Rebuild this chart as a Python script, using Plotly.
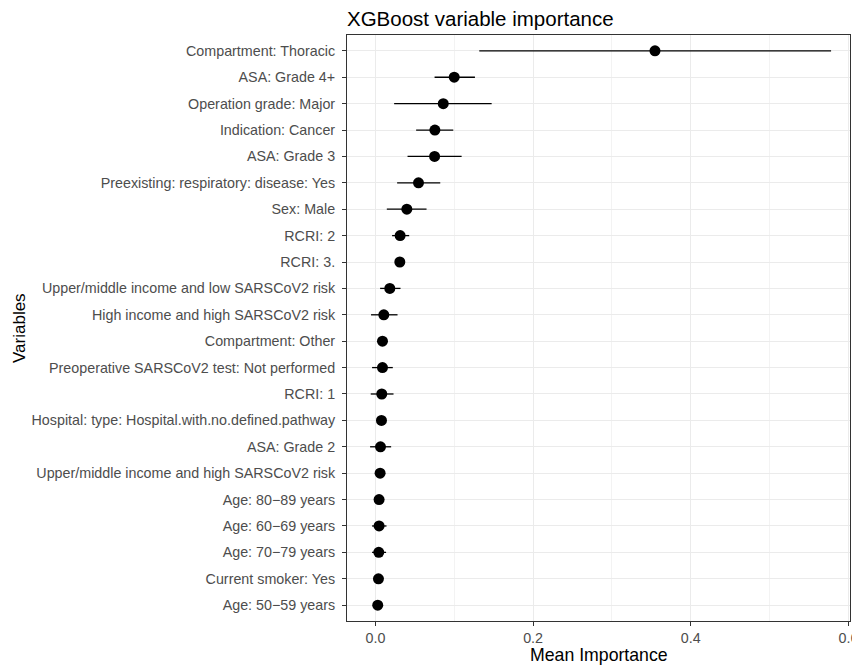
import plotly.graph_objects as go

variables = [
    "Compartment: Thoracic",
    "ASA: Grade 4+",
    "Operation grade: Major",
    "Indication: Cancer",
    "ASA: Grade 3",
    "Preexisting: respiratory: disease: Yes",
    "Sex: Male",
    "RCRI: 2",
    "RCRI: 3.",
    "Upper/middle income and low SARSCoV2 risk",
    "High income and high SARSCoV2 risk",
    "Compartment: Other",
    "Preoperative SARSCoV2 test: Not performed",
    "RCRI: 1",
    "Hospital: type: Hospital.with.no.defined.pathway",
    "ASA: Grade 2",
    "Upper/middle income and high SARSCoV2 risk",
    "Age: 80\u221289 years",
    "Age: 60\u221269 years",
    "Age: 70\u221279 years",
    "Current smoker: Yes",
    "Age: 50\u221259 years",
]
mean_importance = [0.3546, 0.0999, 0.0860, 0.0754, 0.0750, 0.0546, 0.0398, 0.0313, 0.0309,
                   0.0182, 0.0106, 0.0089, 0.0089, 0.0080, 0.0076, 0.0064, 0.0059, 0.0046,
                   0.0046, 0.0042, 0.0038, 0.0029]
lower = [0.1317, 0.0750, 0.0237, 0.0516, 0.0407, 0.0275, 0.0144, 0.0211, 0.0269,
         0.0059, -0.0056, 0.0049, -0.0043, -0.0060, 0.0026, -0.0068, 0.0029, 0.0016,
         -0.0043, -0.0043, 0.0008, -0.0001]
upper = [0.5780, 0.1262, 0.1474, 0.0987, 0.1093, 0.0822, 0.0648, 0.0428, 0.0349,
         0.0318, 0.0280, 0.0129, 0.0220, 0.0229, 0.0126, 0.0199, 0.0089, 0.0076,
         0.0140, 0.0135, 0.0068, 0.0059]

err_plus = [u - m for u, m in zip(upper, mean_importance)]
err_minus = [m - l for m, l in zip(mean_importance, lower)]

# page body has an 8px margin, so the figure is 852x660 placed at (8, 8)
OFF = 8
W, H = 860 - OFF, 668 - OFF
L, R, T, B = 347 - OFF, 10, 35 - OFF, 47
pw, ph = W - L - R, H - T - B

fig = go.Figure()
fig.add_trace(go.Scatter(
    x=mean_importance, y=variables, mode="markers",
    marker=dict(color="black", size=11),
    error_x=dict(type="data", symmetric=False, array=err_plus, arrayminus=err_minus,
                 color="black", thickness=1.3, width=0),
    showlegend=False,
))

n = len(variables)
fig.update_layout(
    width=W, height=H,
    margin=dict(l=L, r=R, t=T, b=B, autoexpand=False),
    paper_bgcolor="white", plot_bgcolor="white",
    font=dict(family="Liberation Sans, Arial, sans-serif", color="black"),
    title=dict(text="XGBoost variable importance", x=L / W, xanchor="left",
               xref="container", yref="container", y=1 - 4 / H, yanchor="top",
               pad=dict(t=0, b=0, l=0, r=0),
               font=dict(size=20.5, color="black")),
    xaxis=dict(
        range=[-0.0361, 0.602], tickvals=[0.0, 0.2, 0.4, 0.6],
        ticktext=["0.0", "0.2", "0.4", "0.6"],
        showgrid=True, gridcolor="#EBEBEB", gridwidth=1.1,
        minor=dict(tick0=0.1, dtick=0.2, showgrid=True, gridcolor="#F3F3F3", gridwidth=0.6),
        zeroline=False, showline=True, linecolor="#333333", linewidth=1, mirror=True,
        ticks="outside", ticklen=4, tickcolor="#333333",
        tickfont=dict(size=14.3, color="#4D4D4D"), automargin=False,
    ),
    yaxis=dict(
        type="category", categoryorder="array", categoryarray=variables,
        range=[n - 1 + 0.6, -0.6],
        showgrid=True, gridcolor="#EBEBEB", gridwidth=1.1,
        zeroline=False, showline=True, linecolor="#333333", linewidth=1, mirror=True,
        ticks="outside", ticklen=4, tickcolor="#333333", ticklabelstandoff=4,
        tickfont=dict(size=14.3, color="#4D4D4D"), automargin=False,
    ),
    annotations=[
        dict(text="Mean Importance", xref="paper", yref="paper",
             x=(599 - OFF - L) / pw, y=(H - B - (655 - OFF)) / ph,
             showarrow=False, xanchor="center", yanchor="middle",
             font=dict(size=17.7, color="black")),
        dict(text="Variables", xref="paper", yref="paper",
             x=(19 - OFF - L) / pw, y=0.5, textangle=-90,
             showarrow=False, xanchor="center", yanchor="middle",
             font=dict(size=17.0, color="black")),
    ],
)

fig.write_html("out.html")
